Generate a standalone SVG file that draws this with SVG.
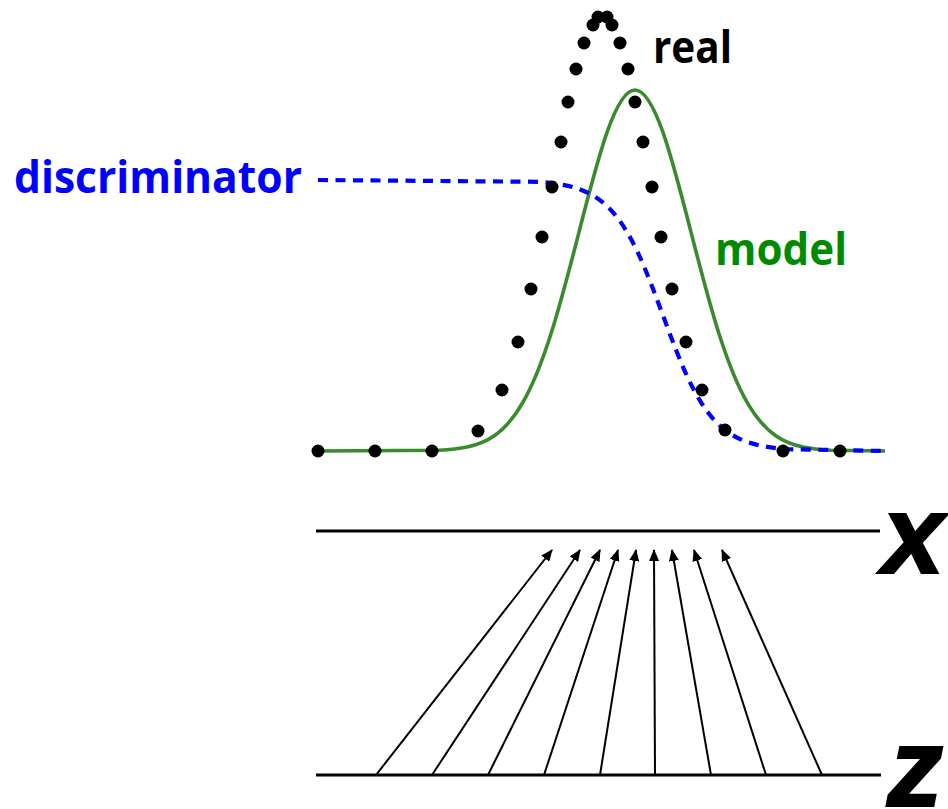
<svg xmlns="http://www.w3.org/2000/svg" width="948" height="809" viewBox="0 0 948 809">
<defs>
<style>
.lbl{font-family:"Open Sans","Liberation Sans",sans-serif;font-weight:bold;font-size:44px}
.var{font-family:"Liberation Sans",Arial,sans-serif;font-weight:bold;font-style:italic;font-size:112px;fill:#000;stroke:#000;stroke-width:2}
.dot{fill:#000}
.axis{stroke:#000;stroke-width:3;fill:none}
.arr{stroke:#000;stroke-width:2;fill:none;marker-end:url(#ah)}
</style>
<marker id="ah" markerUnits="userSpaceOnUse" markerWidth="12" markerHeight="10" refX="11" refY="5" orient="auto">
<path d="M0,0 L12,5 L0,10 z" fill="#000"/>
</marker>
</defs>
<rect width="948" height="809" fill="#fff"/>

<g id="model-curve">
<path d="M318,451 L439,450.2 C448.33,449.74 457.67,449 467,447 C476.33,445 485.67,441.81 495,435.2 C504.33,428.59 513.67,418.48 523,402.2 C532.33,385.92 541.67,363.1 551,333.8 C560.33,304.5 569.67,268.59 579,232.1 C588.33,195.61 597.67,158.93 607,132.4 C616.33,105.87 625.67,90 635,90 C644.33,90 653.67,105.87 663,132.4 C672.33,158.93 681.67,195.61 691,232.1 C700.33,268.59 709.67,304.5 719,333.8 C728.33,363.1 737.67,385.92 747,402.2 C756.33,418.48 765.67,428.59 775,435.2 C784.33,441.81 793.67,445 803,447 C812.33,449 821.67,449.74 831,450.2 L885,451" fill="none" stroke="#3a8a2e" stroke-width="3.6"/>
</g>

<g id="discriminator-curve">
<path d="M318,180 L538,181.8 C546.33,182.4 554.67,183.3 563,184.9 C571.33,186.5 579.67,188.82 588,192.9 C596.33,196.98 604.67,202.82 613,212.3 C621.33,221.78 629.67,235.14 638,252.9 C646.33,270.66 654.67,292.92 663,315.5 C671.33,338.08 679.67,360.34 688,378.1 C696.33,395.86 704.67,409.22 713,418.7 C721.33,428.18 729.67,434.02 738,438.1 C746.33,442.18 754.67,444.5 763,446.1 C771.33,447.7 779.67,448.6 788,449.2 L885,451" fill="none" stroke="#0000ff" stroke-width="4.2" stroke-dasharray="10 7.5"/>
</g>

<g id="real-data">
<circle class="dot" cx="318" cy="451" r="6.5"/>
<circle class="dot" cx="375" cy="451" r="6.5"/>
<circle class="dot" cx="432" cy="451" r="6.5"/>
<circle class="dot" cx="478" cy="431" r="6.5"/>
<circle class="dot" cx="502" cy="390" r="6.5"/>
<circle class="dot" cx="518" cy="342" r="6.5"/>
<circle class="dot" cx="531" cy="289" r="6.5"/>
<circle class="dot" cx="542" cy="237" r="6.5"/>
<circle class="dot" cx="552" cy="187" r="6.5"/>
<circle class="dot" cx="561" cy="142" r="6.5"/>
<circle class="dot" cx="568" cy="102" r="6.5"/>
<circle class="dot" cx="576" cy="69" r="6.5"/>
<circle class="dot" cx="584" cy="43" r="6.5"/>
<circle class="dot" cx="593" cy="25" r="6.5"/>
<circle class="dot" cx="598" cy="17" r="6.5"/>
<circle class="dot" cx="607" cy="17" r="6.5"/>
<circle class="dot" cx="612" cy="25" r="6.5"/>
<circle class="dot" cx="620" cy="43" r="6.5"/>
<circle class="dot" cx="628" cy="69" r="6.5"/>
<circle class="dot" cx="635" cy="102" r="6.5"/>
<circle class="dot" cx="643" cy="142" r="6.5"/>
<circle class="dot" cx="652" cy="187" r="6.5"/>
<circle class="dot" cx="661" cy="237" r="6.5"/>
<circle class="dot" cx="672" cy="289" r="6.5"/>
<circle class="dot" cx="686" cy="342" r="6.5"/>
<circle class="dot" cx="702" cy="390" r="6.5"/>
<circle class="dot" cx="725" cy="430" r="6.5"/>
<circle class="dot" cx="783" cy="451" r="6.5"/>
<circle class="dot" cx="840" cy="451" r="6.5"/>
</g>

<g id="labels">
<text class="lbl" x="14" y="193" fill="#0000ff" textLength="288" lengthAdjust="spacingAndGlyphs">discriminator</text>
<text class="lbl" x="653" y="63" fill="#000" textLength="79" lengthAdjust="spacingAndGlyphs">real</text>
<text class="lbl" x="715" y="265" fill="#008a00" textLength="132" lengthAdjust="spacingAndGlyphs">model</text>
</g>

<g id="x-axis">
<line class="axis" x1="316" y1="531" x2="880" y2="531"/>
<text class="var" x="882" y="573">x</text>
</g>

<g id="z-axis">
<line class="axis" x1="316" y1="775" x2="881" y2="775" stroke-width="3.5"/>
<text class="var" x="887" y="806">z</text>
</g>

<g id="connectors">
<line class="arr" x1="376" y1="775" x2="552" y2="550"/>
<line class="arr" x1="432" y1="775" x2="580" y2="550"/>
<line class="arr" x1="488" y1="775" x2="600" y2="550"/>
<line class="arr" x1="544" y1="775" x2="618" y2="550"/>
<line class="arr" x1="600" y1="775" x2="636" y2="550"/>
<line class="arr" x1="655" y1="775" x2="654" y2="550"/>
<line class="arr" x1="711" y1="775" x2="672" y2="550"/>
<line class="arr" x1="766" y1="775" x2="694" y2="550"/>
<line class="arr" x1="822" y1="775" x2="722" y2="550"/>
</g>
</svg>
